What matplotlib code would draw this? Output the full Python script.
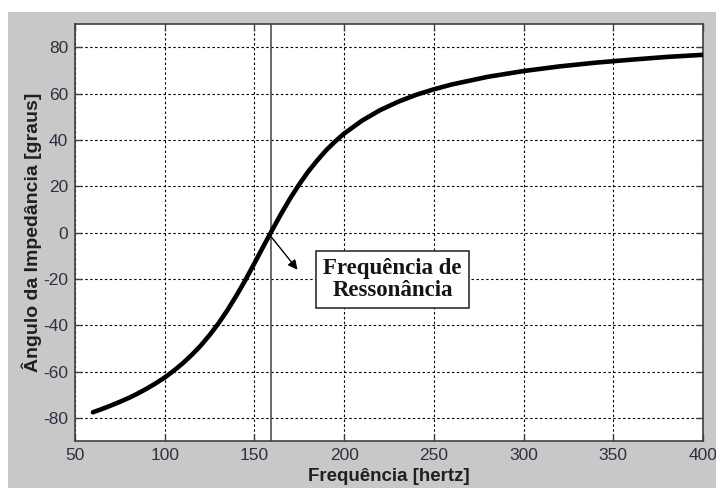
import matplotlib.pyplot as plt
from matplotlib.patches import Rectangle

plt.rcParams['axes.unicode_minus'] = False

# Phase angle of the impedance vs. frequency
freq = [60, 65, 70, 75, 80, 85, 90, 95, 100, 105, 110, 115, 120, 125, 130,
        135, 140, 145, 150, 155, 160, 165, 170, 175, 180, 185, 190, 195, 200,
        210, 220, 230, 240, 250, 260, 280, 300, 320, 340, 360, 380, 400]
angle = [-77.6, -76.2, -74.7, -73.1, -71.4, -69.5, -67.4, -65.1, -62.6, -59.7,
         -56.5, -52.9, -48.9, -44.3, -39.2, -33.5, -27.2, -20.5, -13.3, -6.0,
         1.2, 8.2, 14.8, 20.8, 26.3, 31.1, 35.5, 39.3, 42.7,
         48.3, 52.8, 56.4, 59.4, 61.8, 63.9, 67.2, 69.7, 71.7, 73.3, 74.6,
         75.8, 76.7]

f_res = 159
xticks = [50, 100, 150, 200, 250, 300, 350, 400]
yticks = [-80, -60, -40, -20, 0, 20, 40, 60, 80]

fig = plt.figure(figsize=(7.16, 4.88), dpi=100, facecolor='white')
# grey window background
fig.patches.append(Rectangle((8 / 716, 0), 1, 1 - 12 / 488, transform=fig.transFigure,
                             facecolor='#c8c8c8', edgecolor='none', zorder=-10))

ax = fig.add_axes([0.1047, 0.0963, 0.8771, 0.8545])
ax.set_facecolor('white')

ax.plot(freq, angle, color='black', linewidth=3.3, solid_capstyle='round',
        solid_joinstyle='round', zorder=3)
ax.axvline(f_res, color='#505050', linewidth=1.2, zorder=2)

ax.set_xlim(50, 400)
ax.set_ylim(-90, 90)
ax.set_xticks(xticks)
ax.set_yticks(yticks)
ax.grid(True, color='black', linestyle=(0, (2.2, 2.2)), linewidth=0.8)

ax.tick_params(direction='in', length=5, width=1, color='#404040',
               top=True, right=True, labelsize=12.5, labelcolor='#303040', pad=5)
for lab in ax.get_xticklabels() + ax.get_yticklabels():
    lab.set_family('Liberation Sans')
for sp in ax.spines.values():
    sp.set_color('#404040')
    sp.set_linewidth(1.2)

ax.set_xlabel('Frequência [hertz]', fontsize=13.5, fontweight='bold',
              family='Liberation Sans', color='#202020', labelpad=3.5)
ax.set_ylabel('Ângulo da Impedância [graus]', fontsize=14, fontweight='bold',
              family='Liberation Sans', color='#202020', labelpad=0.5)

ax.annotate('', xy=(175, -17), xytext=(158.5, -1),
            arrowprops=dict(arrowstyle='-|>', color='black', lw=1,
                            mutation_scale=14), zorder=4)
ax.text(227, -20.3, 'Frequência de\nRessonância', ha='center', va='center',
        fontsize=16.5, fontweight='bold', family='Liberation Serif',
        color='#151515', linespacing=1.1, zorder=5,
        bbox=dict(boxstyle='square,pad=0.3', facecolor='white',
                  edgecolor='#303030', linewidth=1.2))

fig.savefig('out.png', dpi=100)
